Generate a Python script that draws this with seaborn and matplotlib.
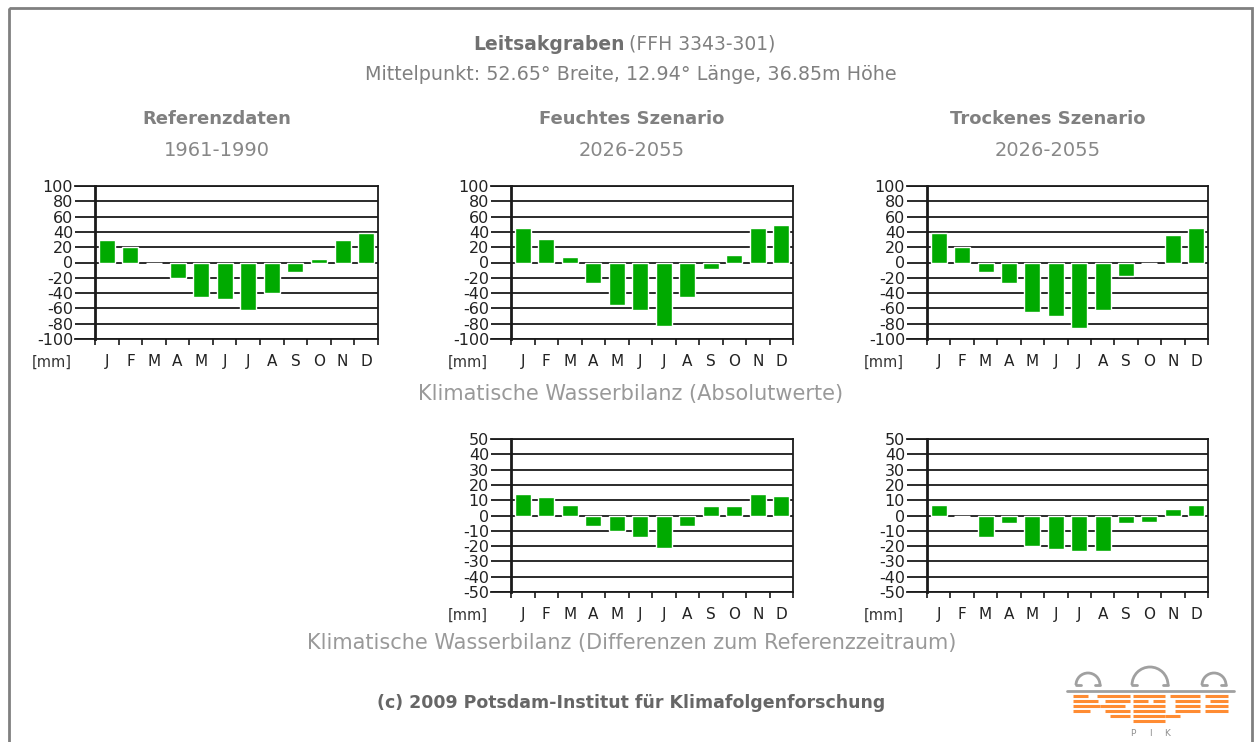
import numpy as np
import pandas as pd
import matplotlib
matplotlib.use("Agg")
import matplotlib.pyplot as plt
from matplotlib.patches import Arc, Rectangle
import seaborn as sns

# --- data (mm) ---
month_keys = ["Jan", "Feb", "Mar", "Apr", "May", "Jun", "Jul", "Aug", "Sep", "Oct", "Nov", "Dec"]
month_labels = ["J", "F", "M", "A", "M", "J", "J", "A", "S", "O", "N", "D"]

ref_abs = [30, 20, -1, -20, -45, -48, -62, -40, -13, 5, 30, 39]
wet_abs = [45, 31, 7, -27, -55, -62, -83, -45, -8, 10, 45, 49]
dry_abs = [39, 20, -13, -27, -65, -70, -86, -62, -18, -1, 36, 45]
wet_diff = [14, 12, 7, -7, -10, -14, -21, -7, 6, 6, 14, 13]
dry_diff = [7, -0.5, -14, -5, -20, -22, -23, -23, -5, -4, 4, 7]

panel_titles = ["Referenzdaten", "Feuchtes Szenario", "Trockenes Szenario"]
panel_years = ["1961-1990", "2026-2055", "2026-2055"]

W, H = 1255, 742
GREEN = "#00aa00"
LINE = "#1a1a1a"
STUB = 20  # px the grid lines reach left of the y axis

sns.set_style("ticks")
plt.rcParams["font.family"] = ["DejaVu Sans"]
plt.rcParams.update({"xtick.bottom": True, "ytick.left": True,
                     "axes.unicode_minus": False})

fig = plt.figure(figsize=(W / 100, H / 100), dpi=100)


def rect(l, t, r, b):
    return [l / W, 1 - b / H, (r - l) / W, (b - t) / H]


def panel(box, values, lim, step):
    l, t, r, b = box
    # axes starts STUB px left of the y axis so grid lines poke out like ticks
    ax = fig.add_axes(rect(l - STUB, t, r, b))
    df = pd.DataFrame({"month": month_keys, "value": values})
    sns.barplot(data=df, x="month", y="value", order=month_keys, color=GREEN,
                saturation=1, width=0.68, ax=ax, zorder=3)
    ppu = (r - l) / 12
    ax.set_xlim(-0.5 - STUB / ppu, 11.5)
    ax.set_ylim(-lim, lim)
    ax.set_yticks(np.arange(-lim, lim + 1, step))
    ax.grid(axis="y", color=LINE, lw=1.3)
    ax.set_axisbelow(True)
    ax.set_xticks(range(12))
    ax.set_xticklabels(month_labels)
    ax.set_xticks(np.arange(-0.5, 12, 1), minor=True)
    ax.tick_params(axis="x", which="major", bottom=True, length=0, pad=11,
                   labelsize=11, labelcolor="#222")
    ax.tick_params(axis="x", which="minor", bottom=True, length=4.5, width=1.2,
                   color=LINE, direction="out")
    ax.tick_params(axis="y", which="major", left=True, length=0,
                   pad=(STUB + 2) * 0.72, labelsize=11.5, labelcolor="#222")
    ax.set_xlabel("")
    ax.set_ylabel("")
    for name, sp in ax.spines.items():
        sp.set_visible(True)
        sp.set_color(LINE)
        sp.set_linewidth(1.3)
    ax.spines["left"].set_position(("data", -0.5))
    ax.spines["left"].set_linewidth(2)
    fig.text((l - 63) / W, 1 - (b + 23) / H, "[mm]", fontsize=10.5,
             color="#333", ha="left", va="center")
    return ax


top_boxes = [(95, 186, 378, 339), (511, 186, 793, 339), (927, 186, 1208, 339)]
bottom_boxes = [(511, 439, 793, 592), (927, 439, 1208, 592)]

for box, vals in zip(top_boxes, [ref_abs, wet_abs, dry_abs]):
    panel(box, vals, 100, 20)
for box, vals in zip(bottom_boxes, [wet_diff, dry_diff]):
    panel(box, vals, 50, 10)

# titles
fig.text(625 / W, 1 - 44 / H, "Leitsakgraben", fontsize=13.5, fontweight="bold",
         color="#707070", ha="right", va="center")
fig.text(629 / W, 1 - 44 / H, "(FFH 3343-301)", fontsize=13.5, color="#808080",
         ha="left", va="center")
fig.text(631 / W, 1 - 74 / H, "Mittelpunkt: 52.65° Breite, 12.94° Länge, 36.85m Höhe",
         fontsize=13.8, color="#808080", ha="center", va="center")

for (l, t, r, b), title, years in zip(top_boxes, panel_titles, panel_years):
    cx = (l + r) / 2 - 20
    fig.text(cx / W, 1 - 119 / H, title, fontsize=13, fontweight="bold",
             color="#808080", ha="center", va="center")
    fig.text(cx / W, 1 - 150 / H, years, fontsize=14, color="#888888",
             ha="center", va="center")

fig.text(631 / W, 1 - 394 / H, "Klimatische Wasserbilanz (Absolutwerte)",
         fontsize=15, color="#999999", ha="center", va="center")
fig.text(632 / W, 1 - 643 / H, "Klimatische Wasserbilanz (Differenzen zum Referenzzeitraum)",
         fontsize=15, color="#999999", ha="center", va="center")
fig.text(631 / W, 1 - 703 / H, "(c) 2009 Potsdam-Institut für Klimafolgenforschung",
         fontsize=12.5, fontweight="bold", color="#666666", ha="center", va="center")

# frame around the figure
frame = fig.add_axes([0, 0, 1, 1], zorder=-1)
frame.set_xlim(0, W)
frame.set_ylim(H, 0)
frame.axis("off")
frame.add_patch(Rectangle((8.5, 8), 1243, 760, fill=False, ec="#808080", lw=2))

# PIK logo
logo = fig.add_axes([0, 0, 1, 1], zorder=5)
logo.set_xlim(0, W)
logo.set_ylim(H, 0)
logo.axis("off")
grey = "#a0a0a0"
orange = "#ff8c33"
logo.plot([1067, 1234], [691, 691], color=grey, lw=2)
for cx, r in [(1088, 12), (1150, 18), (1214, 12)]:
    logo.add_patch(Arc((cx, 685), 2 * r, 2 * r, theta1=180, theta2=360,
                       color=grey, lw=2))
    logo.plot([cx - r, cx - r + 5], [685, 685], color=grey, lw=2)
    logo.plot([cx + r - 5, cx + r], [685, 685], color=grey, lw=2)
dash_rows = [
    (696, [(1073, 1088), (1097, 1130), (1133, 1165), (1170, 1200), (1205, 1228)]),
    (701, [(1073, 1098), (1105, 1130), (1133, 1148), (1153, 1165), (1175, 1200), (1210, 1228)]),
    (706, [(1073, 1100), (1100, 1125), (1133, 1165), (1175, 1200), (1205, 1228)]),
    (711, [(1073, 1090), (1105, 1130), (1133, 1165), (1175, 1200), (1205, 1228)]),
    (716, [(1110, 1130), (1133, 1165), (1165, 1180)]),
    (721, [(1133, 1165)]),
]
for y, segs in dash_rows:
    for x0, x1 in segs:
        logo.plot([x0, x1], [y, y], color=orange, lw=2.2, solid_capstyle="butt")
for x, ch in zip([1133, 1150, 1167], ["P", "I", "K"]):
    logo.text(x, 733, ch, fontsize=6.5, color="#909090", ha="center", va="center")

fig.savefig("out.png", dpi=100)
